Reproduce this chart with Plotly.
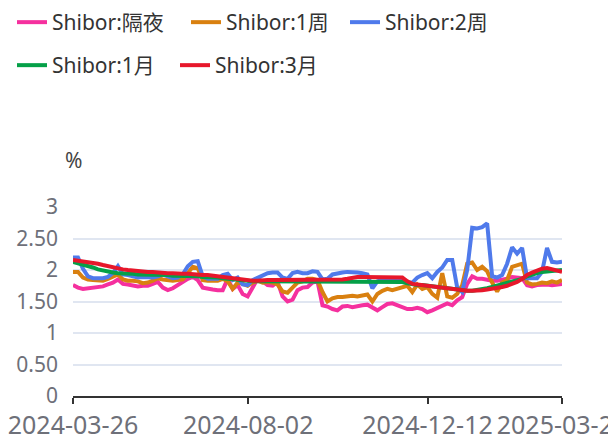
import pandas as pd
import plotly.graph_objects as go

start_date = "2024-03-26"
end_date = "2025-03-21"
tick_labels = ["2024-03-26", "2024-08-02", "2024-12-12", "2025-03-21"]
y_tick_vals = [0, 0.5, 1, 1.5, 2, 2.5, 3]
y_tick_text = ["0", "0.50", "1", "1.50", "2", "2.50", "3"]

names = ["Shibor:隔夜", "Shibor:1周", "Shibor:2周", "Shibor:1月", "Shibor:3月"]
colors = ["#F5309E", "#D98010", "#4F7AEB", "#05A048", "#E7172B"]

shibor_on = [1.76, 1.72, 1.70, 1.71, 1.73, 1.73, 1.74, 1.77, 1.80, 1.85,
             1.78, 1.77, 1.76, 1.74, 1.75, 1.75, 1.78, 1.81, 1.72, 1.68,
             1.71, 1.76, 1.82, 1.86, 1.89, 1.84, 1.72, 1.70, 1.69, 1.68,
             1.68, 1.86, 1.70, 1.76, 1.62, 1.58, 1.72, 1.86, 1.82, 1.76,
             1.75, 1.81, 1.58, 1.50, 1.53, 1.68, 1.72, 1.73, 1.80, 1.82,
             1.44, 1.42, 1.38, 1.36, 1.42, 1.43, 1.41, 1.43, 1.44, 1.45,
             1.40, 1.36, 1.41, 1.46, 1.47, 1.44, 1.42, 1.38, 1.38, 1.40,
             1.38, 1.33, 1.36, 1.40, 1.43, 1.47, 1.44, 1.52, 1.57, 1.78,
             1.90, 1.86, 1.86, 1.84, 1.83, 1.83, 1.84, 1.86, 1.89, 1.88,
             1.87, 1.76, 1.74, 1.76, 1.77, 1.77, 1.76, 1.77, 1.78]

shibor_1w = [1.97, 1.97, 1.88, 1.85, 1.84, 1.83, 1.83, 1.86, 1.89, 1.93,
             1.85, 1.83, 1.83, 1.82, 1.79, 1.80, 1.83, 1.87, 1.85, 1.84,
             1.83, 1.84, 1.85, 1.95, 2.05, 2.03, 1.84, 1.83, 1.83, 1.83,
             1.86, 1.82, 1.70, 1.80, 1.78, 1.75, 1.80, 1.83, 1.80, 1.81,
             1.80, 1.77, 1.66, 1.64, 1.72, 1.80, 1.82, 1.86, 1.86, 1.84,
             1.65, 1.50, 1.55, 1.57, 1.57, 1.58, 1.59, 1.58, 1.60, 1.61,
             1.50, 1.62, 1.67, 1.70, 1.68, 1.70, 1.72, 1.75, 1.65, 1.77,
             1.70, 1.73, 1.62, 1.56, 1.95, 1.58, 1.56, 1.62, 1.76, 2.10,
             2.12, 2.00, 2.05, 1.98, 1.80, 1.66, 1.80, 1.84, 2.05, 2.08,
             2.10, 1.80, 1.77, 1.78, 1.80, 1.79, 1.82, 1.80, 1.84]

shibor_2w = [2.20, 2.20, 2.02, 1.90, 1.87, 1.87, 1.87, 1.89, 1.95, 2.06,
             1.93, 1.92, 1.90, 1.88, 1.89, 1.89, 1.88, 1.90, 1.93, 1.90,
             1.87, 1.88, 1.93, 2.06, 2.13, 2.14, 1.90, 1.86, 1.86, 1.86,
             1.92, 1.94, 1.84, 1.88, 1.77, 1.76, 1.84, 1.88, 1.92, 1.95,
             1.96, 1.96, 1.88, 1.86, 1.95, 1.97, 1.95, 1.95, 1.98, 1.97,
             1.85, 1.86, 1.93, 1.95, 1.96, 1.97, 1.97, 1.96, 1.95, 1.93,
             1.71, 1.82, 1.85, 1.87, 1.86, 1.84, 1.84, 1.80, 1.80, 1.88,
             1.92, 1.95, 1.87, 1.97, 2.04, 2.16, 2.16, 1.72, 1.65, 2.00,
             2.67, 2.66, 2.68, 2.74, 1.90, 1.88, 1.92, 2.10, 2.36, 2.26,
             2.35, 1.87, 1.87, 1.87, 1.97, 2.35, 2.13, 2.12, 2.13]

shibor_1m = [2.13, 2.11, 2.09, 2.07, 2.04, 2.01, 1.99, 1.98, 1.96, 1.95,
             1.95, 1.94, 1.94, 1.93, 1.93, 1.93, 1.92, 1.92, 1.92, 1.92,
             1.91, 1.91, 1.91, 1.90, 1.90, 1.90, 1.89, 1.89, 1.88, 1.88,
             1.87, 1.86, 1.85, 1.84, 1.83, 1.82, 1.82, 1.82, 1.82, 1.82,
             1.82, 1.82, 1.82, 1.82, 1.82, 1.82, 1.82, 1.82, 1.82, 1.82,
             1.82, 1.82, 1.82, 1.82, 1.82, 1.82, 1.82, 1.81, 1.81, 1.81,
             1.81, 1.81, 1.81, 1.81, 1.81, 1.81, 1.81, 1.79, 1.77, 1.76,
             1.76, 1.75, 1.73, 1.72, 1.71, 1.70, 1.69, 1.68, 1.67, 1.67,
             1.67, 1.68, 1.69, 1.71, 1.73, 1.75, 1.77, 1.79, 1.81, 1.83,
             1.86, 1.90, 1.93, 1.95, 1.97, 1.98, 1.98, 1.99, 2.00]

shibor_3m = [2.16, 2.15, 2.14, 2.13, 2.11, 2.10, 2.08, 2.06, 2.04, 2.02,
             2.01, 2.00, 1.99, 1.98, 1.98, 1.97, 1.97, 1.96, 1.96, 1.95,
             1.95, 1.94, 1.94, 1.94, 1.93, 1.93, 1.92, 1.92, 1.91, 1.90,
             1.89, 1.88, 1.87, 1.86, 1.84, 1.83, 1.83, 1.83, 1.84, 1.84,
             1.84, 1.84, 1.84, 1.84, 1.84, 1.84, 1.84, 1.85, 1.85, 1.85,
             1.85, 1.85, 1.85, 1.85, 1.85, 1.86, 1.88, 1.89, 1.89, 1.89,
             1.89, 1.89, 1.89, 1.89, 1.89, 1.88, 1.88, 1.82, 1.78, 1.77,
             1.76, 1.75, 1.74, 1.72, 1.71, 1.70, 1.70, 1.69, 1.68, 1.67,
             1.67, 1.67, 1.68, 1.69, 1.70, 1.71, 1.73, 1.75, 1.78, 1.81,
             1.86, 1.92, 1.96, 1.99, 2.02, 2.03, 2.01, 1.99, 1.97]

series = [shibor_on, shibor_1w, shibor_2w, shibor_1m, shibor_3m]
legend_ids = ["legend", "legend", "legend3", "legend2", "legend2"]
dates = pd.date_range(start_date, end_date, periods=len(shibor_on))

FONT = "Noto Sans, Noto Sans CJK SC, sans-serif"

fig = go.Figure()
for name, vals, col, lg in zip(names, series, colors, legend_ids):
    fig.add_trace(go.Scatter(
        x=dates, y=vals, name=name, mode="lines",
        line=dict(color=col, width=4, shape="linear"),
        legend=lg,
    ))


def legend_style(x_px, top_px, entry_w):
    return dict(
        orientation="h", xref="container", yref="container",
        xanchor="left", yanchor="top",
        x=x_px / 608, y=1 - top_px / 437,
        font=dict(family=FONT, size=21, color="#333333"),
        bgcolor="rgba(0,0,0,0)", entrywidth=entry_w, entrywidthmode="pixels",
        itemwidth=30,
    )


fig.update_layout(
    width=608, height=437,
    margin=dict(l=73, r=46, t=207, b=41, autoexpand=False),
    paper_bgcolor="white", plot_bgcolor="white",
    font=dict(family=FONT, color="#6E7079"),
    showlegend=True,
    legend=legend_style(12, 2, 129),
    legend3=legend_style(345, 2, 127),
    legend2=legend_style(12, 45, 118),
    xaxis=dict(
        type="date", automargin=False,
        range=[dates[0], dates[-1]],
        tickvals=pd.to_datetime(tick_labels), ticktext=tick_labels,
        showgrid=False, zeroline=False,
        showline=True, linecolor="#333333", linewidth=2,
        ticks="outside", ticklen=6, tickcolor="#333333", tickwidth=2,
        tickfont=dict(family=FONT, size=25, color="#6E7079"),
        ticklabelstandoff=0, ticklabeloverflow="allow",
    ),
    yaxis=dict(
        range=[0, 3], automargin=False,
        tickvals=y_tick_vals, ticktext=y_tick_text,
        showgrid=True, gridcolor="#E0E6F1", gridwidth=1.5,
        zeroline=False, showline=False, ticks="",
        tickfont=dict(family=FONT, size=21, color="#6E7079"),
        ticklabelstandoff=14,
    ),
    annotations=[dict(
        text="%", xref="paper", yref="paper", x=0, y=1,
        xanchor="center", yanchor="bottom", yshift=31, showarrow=False,
        font=dict(family=FONT, size=21, color="#444444"),
    )],
)

fig.write_html("out.html", config={"displayModeBar": False},
               post_script="document.body.style.margin='0';")
